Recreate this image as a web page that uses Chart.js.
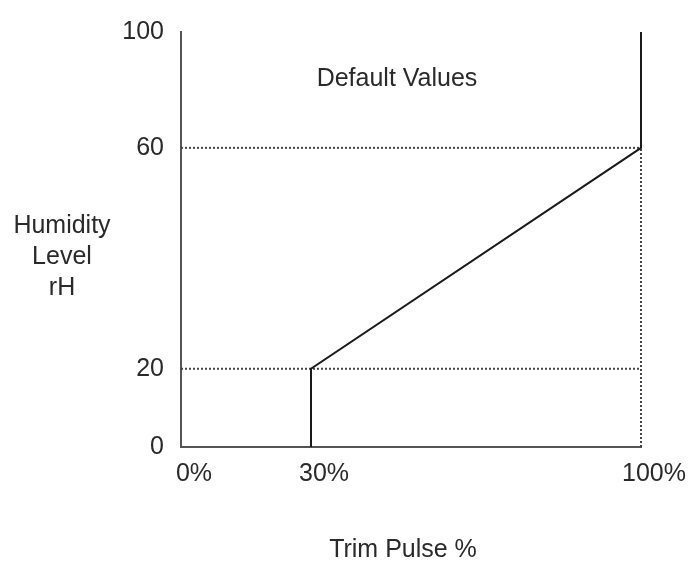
<!DOCTYPE html>
<html>
<head>
<meta charset="utf-8">
<script src="https://cdn.jsdelivr.net/npm/chart.js@4.4.1/dist/chart.umd.min.js"></script>
<style>
  html, body { margin: 0; padding: 0; background: #fff; }
  #wrap { width: 688px; height: 562px; }
</style>
</head>
<body>
<div id="wrap"><canvas id="chart"></canvas></div>
<script>
// Datos
const xTicks = [0, 30, 100];
const yTicks = [0, 20, 60, 100];
const curveX = [30, 30, 100, 100];
const curveY = [0, 20, 60, 100];
const guide20X = [0, 100];
const guide20Y = [20, 20];
const guide60X = [0, 100];
const guide60Y = [60, 60];
const edgeX = [100, 100];
const edgeY = [0, 60];

const noteText = 'Default Values';
const xTitle = 'Trim Pulse %';
const yTitle = ['Humidity', 'Level', 'rH'];

// Escala por tramos (el eje del original no es lineal)
const stopMap = {
    x: [[0, 0], [30, 0.2826], [100, 1]],
    y: [[0, 0], [20, 0.1885], [60, 0.7208], [100, 1]]
};

class PiecewiseScale extends Chart.LinearScale {
    toDecimal(v) {
        const s = stopMap[this.id];
        for (let i = 1; i < s.length; i++) {
            if (v <= s[i][0] || i === s.length - 1) {
                const [v0, d0] = s[i - 1];
                const [v1, d1] = s[i];
                return d0 + (v - v0) / (v1 - v0) * (d1 - d0);
            }
        }
    }
    getPixelForValue(v) {
        return v === null ? NaN : this.getPixelForDecimal(this.toDecimal(v));
    }
    getValueForPixel(p) {
        const d = this.getDecimalForPixel(p);
        const s = stopMap[this.id];
        for (let i = 1; i < s.length; i++) {
            if (d <= s[i][1] || i === s.length - 1) {
                const [v0, d0] = s[i - 1];
                const [v1, d1] = s[i];
                return v0 + (d - d0) / (d1 - d0) * (v1 - v0);
            }
        }
    }
}
PiecewiseScale.id = 'piecewise';
PiecewiseScale.defaults = Chart.LinearScale.defaults;
Chart.register(PiecewiseScale);

function points(xs, ys) {
    return xs.map((x, i) => ({ x, y: ys[i] }));
}

const FONT = '"Liberation Sans", Arial, sans-serif';
const TEXT = '#2a2a2a';

// Textos fuera de los ejes
const textPlugin = {
    id: 'texts',
    afterDraw(chart) {
        const ctx = chart.ctx;
        ctx.save();
        ctx.fillStyle = TEXT;
        ctx.font = '25px ' + FONT;
        ctx.textAlign = 'center';
        ctx.textBaseline = 'middle';
        ctx.fillText(noteText, 397, 79);
        yTitle.forEach((t, i) => ctx.fillText(t, 62, 226 + i * 31));
        ctx.fillText(xTitle, 403, 550);
        ctx.restore();
    }
};

const lineStyle = { showLine: true, pointRadius: 0, fill: false, clip: false };

new Chart(document.getElementById('chart'), {
    type: 'scatter',
    data: {
        datasets: [
            { ...lineStyle, data: points(curveX, curveY), borderColor: '#1a1a1a', borderWidth: 2 },
            { ...lineStyle, data: points(guide20X, guide20Y), borderColor: '#444', borderWidth: 2, borderDash: [2, 2] },
            { ...lineStyle, data: points(guide60X, guide60Y), borderColor: '#444', borderWidth: 2, borderDash: [2, 2] },
            { ...lineStyle, data: points(edgeX, edgeY), borderColor: '#444', borderWidth: 2, borderDash: [2, 2] }
        ]
    },
    options: {
        responsive: true,
        maintainAspectRatio: false,
        animation: false,
        layout: { padding: { top: 28, right: 47, left: 0, bottom: 0 } },
        plugins: {
            legend: { display: false },
            tooltip: { enabled: false }
        },
        scales: {
            x: {
                type: 'piecewise',
                min: 0,
                max: 100,
                afterBuildTicks: s => { s.ticks = xTicks.map(v => ({ value: v })); },
                afterFit: s => { s.height = 115; },
                grid: { display: false, drawTicks: false },
                border: { display: true, color: '#555', width: 2 },
                ticks: {
                    padding: 12,
                    labelOffset: 13,
                    maxRotation: 0,
                    color: TEXT,
                    font: { family: FONT, size: 25 },
                    callback: v => v + '%'
                }
            },
            y: {
                type: 'piecewise',
                min: 0,
                max: 100,
                afterBuildTicks: s => { s.ticks = yTicks.map(v => ({ value: v })); },
                afterFit: s => { s.width = 181; },
                grid: { display: false, drawTicks: false },
                border: { display: true, color: '#555', width: 2 },
                ticks: {
                    padding: 17,
                    color: TEXT,
                    font: { family: FONT, size: 25 },
                    callback: v => String(v)
                }
            }
        }
    },
    plugins: [textPlugin]
});
</script>
</body>
</html>
